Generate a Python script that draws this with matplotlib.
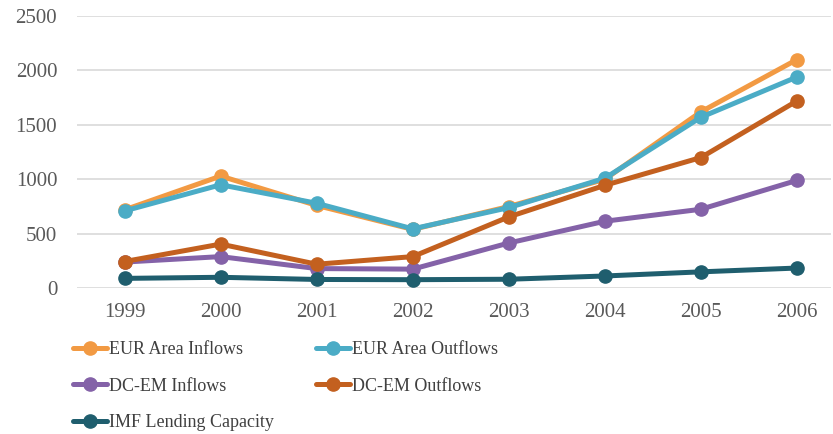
import matplotlib
matplotlib.use("Agg")
import matplotlib.pyplot as plt

years = ["1999", "2000", "2001", "2002", "2003", "2004", "2005", "2006"]
eur_in = [720, 1030, 760, 540, 750, 1000, 1620, 2100]
eur_out = [710, 950, 780, 545, 740, 1010, 1570, 1940]
dc_in = [240, 290, 180, 175, 415, 615, 725, 990]
dc_out = [245, 405, 220, 290, 655, 945, 1200, 1720]
imf = [90, 100, 80, 78, 82, 112, 150, 185]

series = [
    ("EUR Area Inflows", eur_in, "#F29A43"),
    ("EUR Area Outflows", eur_out, "#4BACC6"),
    ("DC-EM Inflows", dc_in, "#8462A8"),
    ("DC-EM Outflows", dc_out, "#C3601F"),
    ("IMF Lending Capacity", imf, "#1F5E6E"),
]

plt.rcParams['font.family'] = ['Liberation Serif', 'DejaVu Serif']

fig = plt.figure(figsize=(8.33, 4.34), dpi=100)
ax = fig.add_axes([0.092, 0.336, 0.905, 0.627])

x = list(range(len(years)))
handles = {}
for name, vals, col in series:
    h, = ax.plot(x, vals, color=col, lw=3.6, marker='o', ms=9.5, label=name,
                 solid_capstyle='round')
    handles[name] = h

ax.set_ylim(0, 2500)
ax.set_yticks([0, 500, 1000, 1500, 2000, 2500])
ax.set_xlim(-0.5, 7.35)
ax.set_xticks(x)
ax.set_xticklabels(years)
ax.grid(axis='y', color='#D9D9D9', lw=1.2)
ax.set_axisbelow(True)
for s in ax.spines.values():
    s.set_visible(False)
ax.tick_params(axis='both', length=0, labelsize=15, colors='#595959')
ax.tick_params(axis='x', pad=11)
ax.tick_params(axis='y', pad=14)

order = ["EUR Area Inflows", "DC-EM Inflows", "IMF Lending Capacity",
         "EUR Area Outflows", "DC-EM Outflows"]
leg = fig.legend([handles[n] for n in order], order, ncol=2, loc='upper left',
                 bbox_to_anchor=(0.088, 0.214), frameon=False, fontsize=13,
                 handlelength=1.85, handletextpad=0.1, columnspacing=2.38,
                 labelspacing=1.09, borderaxespad=0, borderpad=0)
for t in leg.get_texts():
    t.set_color('#404040')

fig.savefig("out.png", dpi=100)
